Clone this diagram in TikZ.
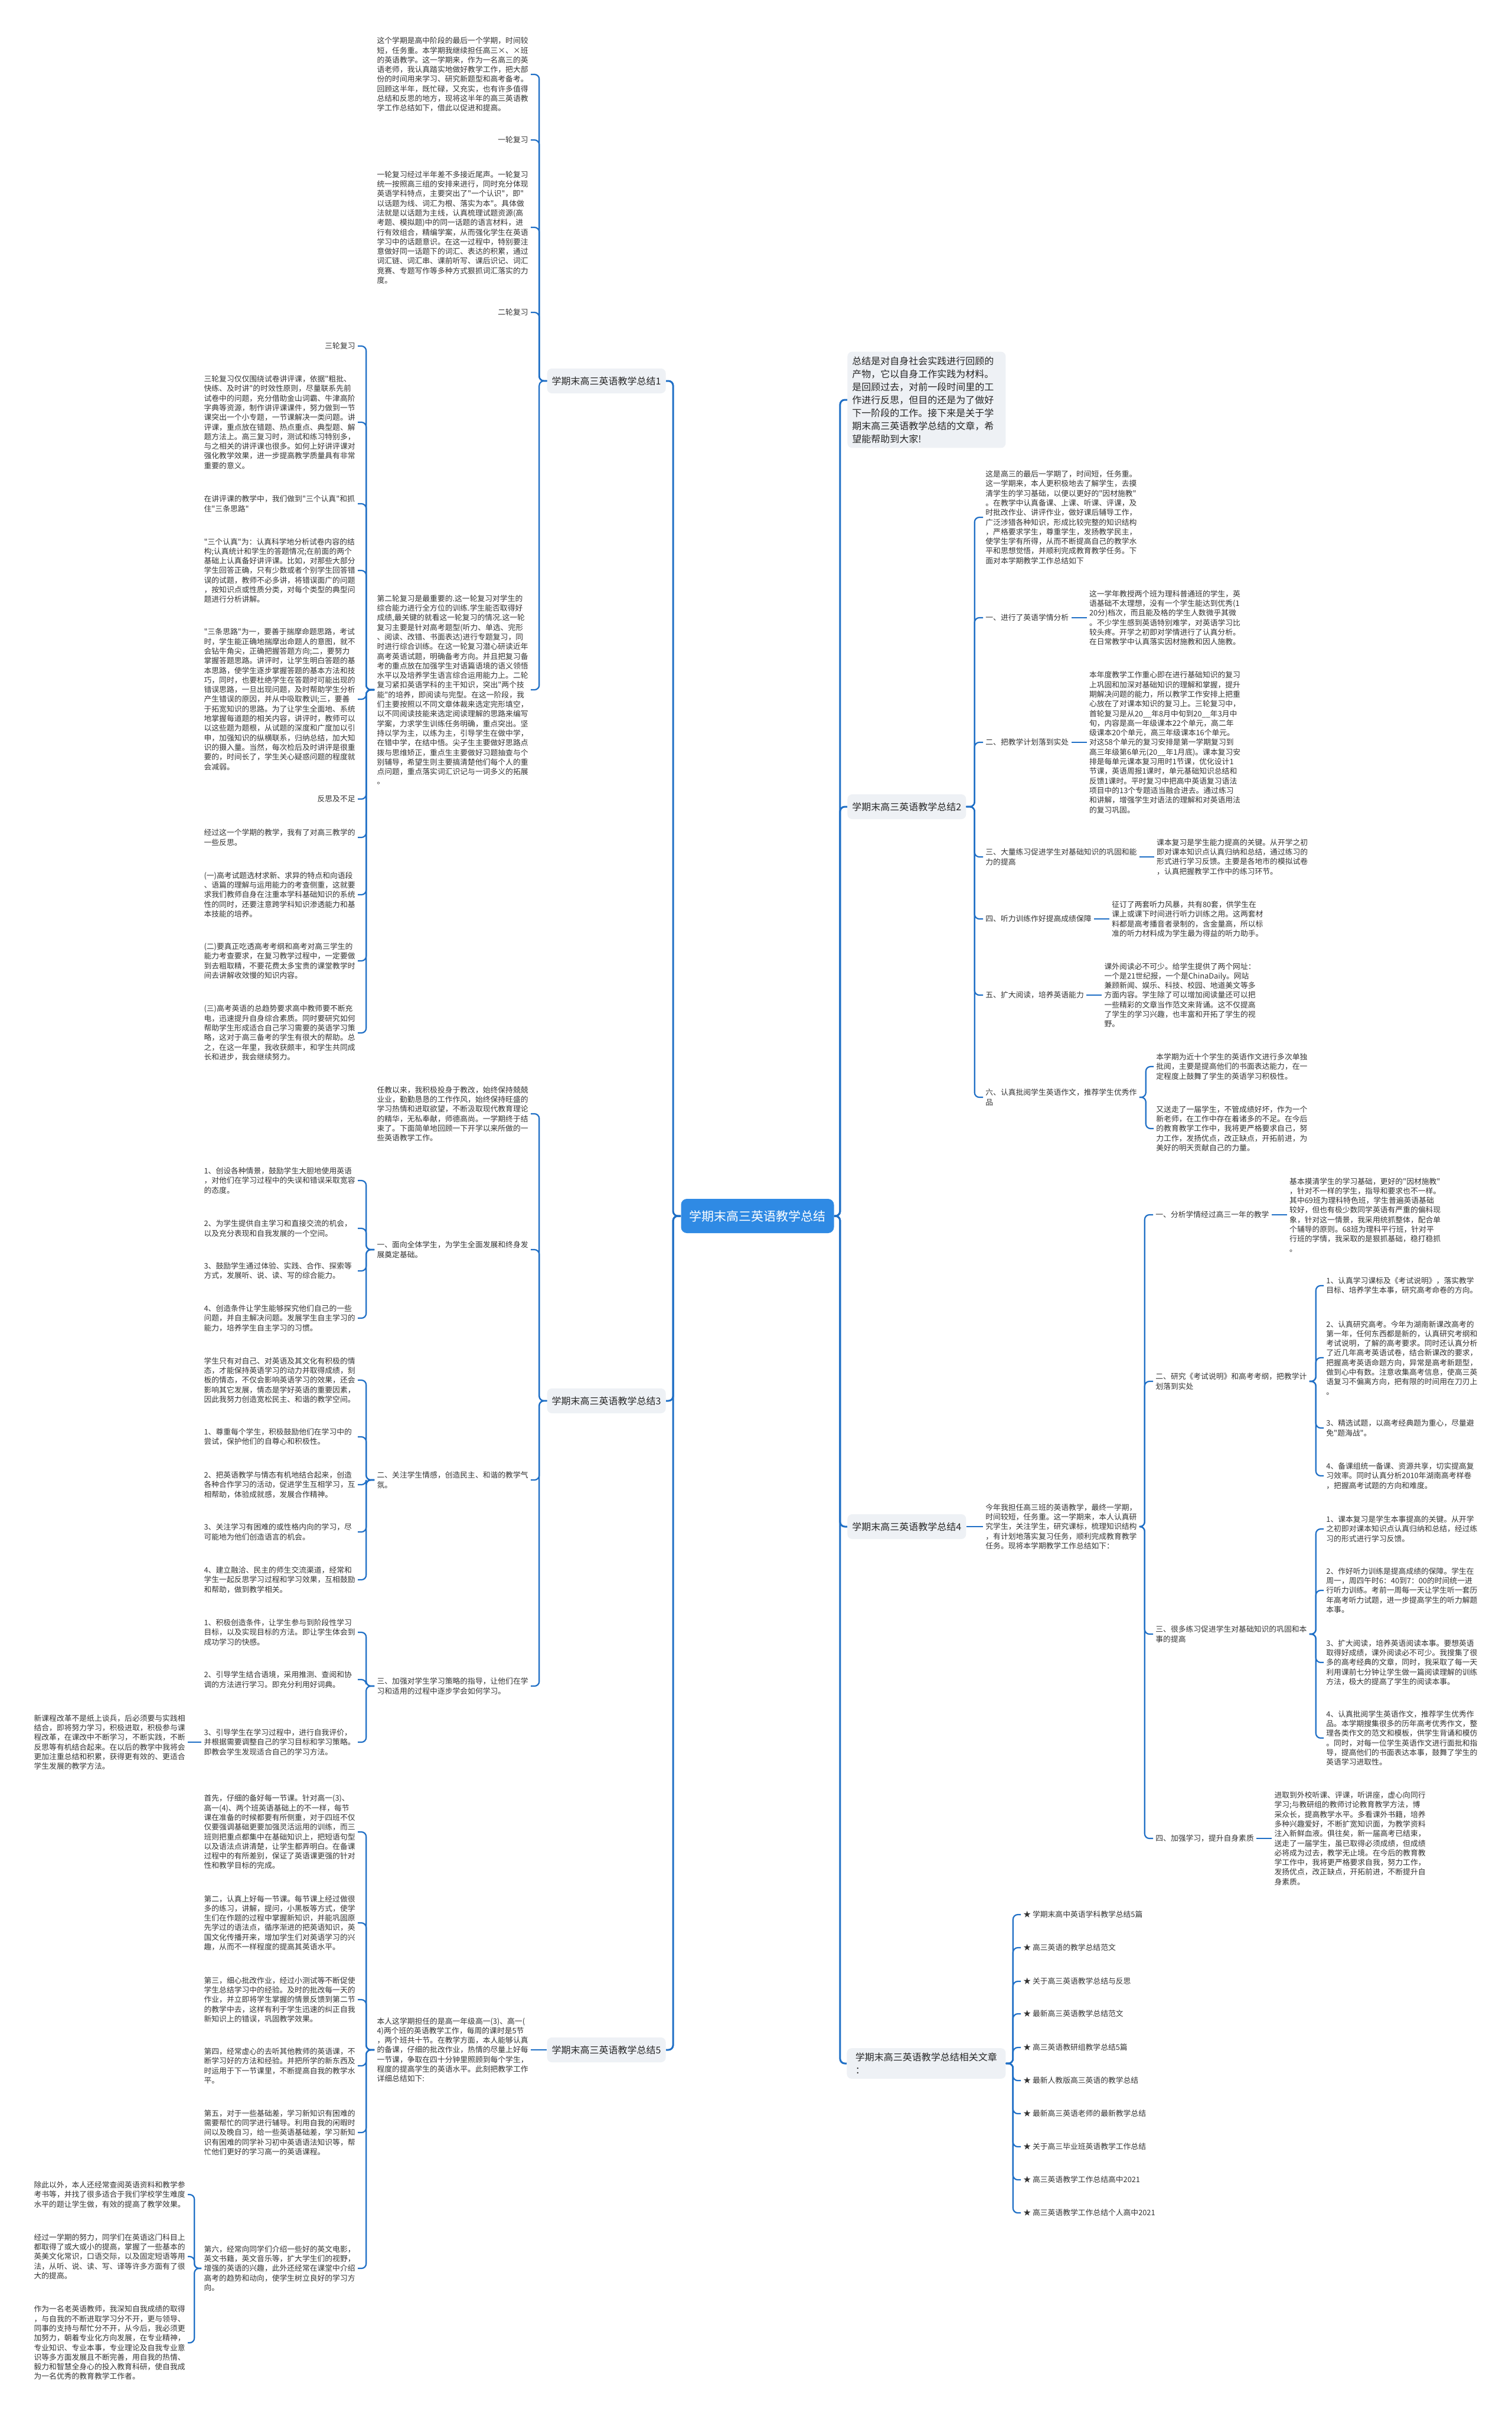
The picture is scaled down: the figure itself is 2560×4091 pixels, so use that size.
\documentclass[tikz,border=0pt]{standalone}
\usepackage{fontspec}
\newfontfamily\cjk{Noto Sans CJK SC}
\usetikzlibrary{positioning}

\definecolor{linkblue}{HTML}{1F6FC6}
\definecolor{rootblue}{HTML}{2F8AE4}
\definecolor{boxgray}{HTML}{EEF1F5}
\definecolor{inkgray}{HTML}{333333}

\begin{document}
\begin{tikzpicture}[x=0.5pt, y=-0.5pt,
    leaf/.style={font=\cjk\fontsize{6.4}{8.15}\selectfont, text=inkgray, inner xsep=2pt, inner ysep=0pt, text width=128pt, align=left},
    tag/.style={font=\cjk\fontsize{6.4}{8.15}\selectfont, text=inkgray, inner xsep=2pt, inner ysep=1pt},
    branch/.style={font=\cjk\fontsize{8}{11}\selectfont, text=black!85, fill=boxgray, rounded corners=4pt, inner xsep=4pt, inner ysep=4pt, minimum height=21pt, align=left},
    root/.style={font=\cjk\fontsize{10.5}{13}\selectfont, text=white, fill=rootblue, rounded corners=5pt, minimum width=129.5pt, minimum height=29pt},
    link/.style={draw=linkblue, line width=1.1pt, rounded corners=4pt},
    mainlink/.style={link, line width=1.5pt}]
  \fill[white] (0,0) rectangle (2560,4091);
  \useasboundingbox (0,0) rectangle (2560,4091);

  % centre
  \node[root] (root) at (1283,2059) {学期末高三英语教学总结};

  % ---------- branch 1 ----------
  \node[branch, anchor=east] (b1) at (1128,645) {学期末高三英语教学总结1};
  \node[leaf, anchor=east] (b1intro) at (899,126) {这个学期是高中阶段的最后一个学期，时间较\\短，任务重。本学期我继续担任高三×、×班\\的英语教学。这一学期来，作为一名高三的英\\语老师，我认真踏实地做好教学工作，把大部\\份的时间用来学习、研究新题型和高考备考。\\回顾这半年，既忙碌，又充实，也有许多值得\\总结和反思的地方，现将这半年的高三英语教\\学工作总结如下，借此以促进和提高。};
  \node[tag, anchor=east] (b1round1) at (899,237) {一轮复习};
  \node[leaf, anchor=east] (b1first) at (899,385) {一轮复习经过半年差不多接近尾声。一轮复习\\统一按照高三组的安排来进行，同时充分体现\\英语学科特点，主要突出了"一个认识"，即"\\以话题为线、词汇为根、落实为本"。具体做\\法就是以话题为主线，认真梳理试题资源(高\\考题、模拟题)中的同一话题的语言材料，进\\行有效组合，精编学案，从而强化学生在英语\\学习中的话题意识。在这一过程中，特别要注\\意做好同一话题下的词汇、表达的积累，通过\\词汇链、词汇串、课前听写、课后识记、词汇\\竞赛、专题写作等多种方式狠抓词汇落实的力\\度。};
  \node[tag, anchor=east] (b1round2) at (899,529) {二轮复习};
  \node[leaf, anchor=east] (b1second) at (899,1168) {第二轮复习是最重要的.这一轮复习对学生的\\综合能力进行全方位的训练.学生能否取得好\\成绩,最关键的就看这一轮复习的情况.这一轮\\复习主要是针对高考题型(听力、单选、完形\\、阅读、改错、书面表达)进行专题复习，同\\时进行综合训练。在这一轮复习潜心研读近年\\高考英语试题，明确备考方向。并且把复习备\\考的重点放在加强学生对语篇语境的语义领悟\\水平以及培养学生语言综合运用能力上。二轮\\复习紧扣英语学科的主干知识，突出"两个技\\能"的培养，即阅读与完型。在这一阶段，我\\们主要按照以不同文章体裁来选定完形填空，\\以不同阅读技能来选定阅读理解的思路来编写\\学案，力求学生训练任务明确，重点突出。坚\\持以学为主，以练为主，引导学生在做中学，\\在错中学，在结中悟。尖子生主要做好思路点\\拨与思维矫正，重点生主要做好习题抽查与个\\别辅导，希望生则主要搞清楚他们每个人的重\\点问题，重点落实词汇识记与一词多义的拓展\\。};
  \node[tag, anchor=east] (b1round3) at (606,586) {三轮复习};
  \node[leaf, anchor=east] (b1third) at (606,715) {三轮复习仅仅围绕试卷讲评课，依据"粗批、\\快练、及时讲"的时效性原则，尽量联系先前\\试卷中的问题，充分借助金山词霸、牛津高阶\\字典等资源，制作讲评课课件，努力做到一节\\课突出一个小专题，一节课解决一类问题。讲\\评课，重点放在错题、热点重点、典型题、解\\题方法上。高三复习时，测试和练习特别多，\\与之相关的讲评课也很多。如何上好讲评课对\\强化教学效果，进一步提高教学质量具有非常\\重要的意义。};
  \node[leaf, anchor=east] (b1review) at (606,853) {在讲评课的教学中，我们做到"三个认真"和抓\\住"三条思路"};
  \node[leaf, anchor=east] (b1careful) at (606,966) {"三个认真"为：认真科学地分析试卷内容的结\\构;认真统计和学生的答题情况;在前面的两个\\基础上认真备好讲评课。比如，对那些大部分\\学生回答正确，只有少数或者个别学生回答错\\误的试题，教师不必多讲，将错误面广的问题\\，按知识点或性质分类，对每个类型的典型问\\题进行分析讲解。};
  \node[leaf, anchor=east] (b1routes) at (606,1184) {"三条思路"为一，要善于揣摩命题思路，考试\\时，学生能正确地揣摩出命题人的意图，就不\\会钻牛角尖，正确把握答题方向;二，要努力\\掌握答题思路。讲评时，让学生明白答题的基\\本思路，使学生逐步掌握答题的基本方法和技\\巧，同时，也要杜绝学生在答题时可能出现的\\错误思路，一旦出现问题，及时帮助学生分析\\产生错误的原因，并从中吸取教训;三，要善\\于拓宽知识的思路。为了让学生全面地、系统\\地掌握每道题的相关内容，讲评时，教师可以\\以这些题为题根，从试题的深度和广度加以引\\申，加强知识的纵横联系，归纳总结，加大知\\识的摄入量。当然，每次检后及时讲评是很重\\要的，时间长了，学生关心疑惑问题的程度就\\会减弱。};
  \node[tag, anchor=east] (b1reflect) at (606,1353) {反思及不足};
  \node[leaf, anchor=east] (b1after) at (606,1418) {经过这一个学期的教学，我有了对高三教学的\\一些反思。};
  \node[leaf, anchor=east] (b1one) at (606,1515) {(一)高考试题选材求新、求异的特点和向语段\\、语篇的理解与运用能力的考查侧重，这就要\\求我们教师自身在注重本学科基础知识的系统\\性的同时，还要注意跨学科知识渗透能力和基\\本技能的培养。};
  \node[leaf, anchor=east] (b1two) at (606,1627) {(二)要真正吃透高考考纲和高考对高三学生的\\能力考查要求，在复习教学过程中，一定要做\\到去粗取精，不要花费太多宝贵的课堂教学时\\间去讲解收效慢的知识内容。};
  \node[leaf, anchor=east] (b1three) at (606,1749) {(三)高考英语的总趋势要求高中教师要不断充\\电，迅速提升自身综合素质。同时要研究如何\\帮助学生形成适合自己学习需要的英语学习策\\略，这对于高三备考的学生有很大的帮助。总\\之，在这一年里，我收获颇丰，和学生共同成\\长和进步，我会继续努力。};

  % ---------- branch 3 ----------
  \node[branch, anchor=east] (b3) at (1128,2372) {学期末高三英语教学总结3};
  \node[leaf, anchor=east] (b3intro) at (899,1886) {任教以来，我积极投身于教改，始终保持兢兢\\业业，勤勤恳恳的工作作风，始终保持旺盛的\\学习热情和进取欲望，不断汲取现代教育理论\\的精华，无私奉献，师德高尚。一学期终于结\\束了。下面简单地回顾一下开学以来所做的一\\些英语教学工作。};
  \node[leaf, anchor=east] (b3a) at (899,2116) {一、面向全体学生，为学生全面发展和终身发\\展奠定基础。};
  \node[leaf, anchor=east] (b3a1) at (606,1999) {1、创设各种情景，鼓励学生大胆地使用英语\\，对他们在学习过程中的失误和错误采取宽容\\的态度。};
  \node[leaf, anchor=east] (b3a2) at (606,2080) {2、为学生提供自主学习和直接交流的机会，\\以及充分表现和自我发展的一个空间。};
  \node[leaf, anchor=east] (b3a3) at (606,2152) {3、鼓励学生通过体验、实践、合作、探索等\\方式，发展听、说、读、写的综合能力。};
  \node[leaf, anchor=east] (b3a4) at (606,2232) {4、创造条件让学生能够探究他们自己的一些\\问题，并自主解决问题。发展学生自主学习的\\能力，培养学生自主学习的习惯。};
  \node[leaf, anchor=east] (b3b) at (899,2506) {二、关注学生情感，创造民主、和谐的教学气\\氛。};
  \node[leaf, anchor=east] (b3b0) at (606,2337) {学生只有对自己、对英语及其文化有积极的情\\态，才能保持英语学习的动力并取得成绩，刻\\板的情态，不仅会影响英语学习的效果，还会\\影响其它发展，情态是学好英语的重要因素，\\因此我努力创造宽松民主、和谐的教学空间。};
  \node[leaf, anchor=east] (b3b1) at (606,2433) {1、尊重每个学生，积极鼓励他们在学习中的\\尝试，保护他们的自尊心和积极性。};
  \node[leaf, anchor=east] (b3b2) at (606,2514) {2、把英语教学与情态有机地结合起来，创造\\各种合作学习的活动，促进学生互相学习，互\\相帮助，体验成就感，发展合作精神。};
  \node[leaf, anchor=east] (b3b3) at (606,2594) {3、关注学习有困难的或性格内向的学习，尽\\可能地为他们创造语言的机会。};
  \node[leaf, anchor=east] (b3b4) at (606,2675) {4、建立融洽、民主的师生交流渠道，经常和\\学生一起反思学习过程和学习效果，互相鼓励\\和帮助，做到教学相关。};
  \node[leaf, anchor=east] (b3c) at (899,2855) {三、加强对学生学习策略的指导，让他们在学\\习和适用的过程中逐步学会如何学习。};
  \node[leaf, anchor=east] (b3c1) at (606,2764) {1、积极创造条件，让学生参与到阶段性学习\\目标，以及实现目标的方法。即让学生体会到\\成功学习的快感。};
  \node[leaf, anchor=east] (b3c2) at (606,2844) {2、引导学生结合语境，采用推测、查阅和协\\调的方法进行学习。即充分利用好词典。};
  \node[leaf, anchor=east] (b3c3) at (606,2950) {3、引导学生在学习过程中，进行自我评价，\\并根据需要调整自己的学习目标和学习策略。\\即教会学生发现适合自己的学习方法。};
  \node[leaf, anchor=east] (b3c3x) at (318,2950) {新课程改革不是纸上谈兵，后必须要与实践相\\结合，即将努力学习，积极进取，积极参与课\\程改革，在课改中不断学习，不断实践，不断\\反思等有机结合起来。在以后的教学中我将会\\更加注重总结和积累，获得更有效的、更适合\\学生发展的教学方法。};

  % ---------- branch 5 ----------
  \node[branch, anchor=east] (b5) at (1128,3471) {学期末高三英语教学总结5};
  \node[leaf, anchor=east] (b5intro) at (899,3471) {本人这学期担任的是高一年级高一(3)、高一(\\4)两个班的英语教学工作，每周的课时是5节\\，两个班共十节。在教学方面，本人能够认真\\的备课，仔细的批改作业，热情的尽量上好每\\一节课，争取在四十分钟里照顾到每个学生，\\程度的提高学生的英语水平。此刻把教学工作\\详细总结如下:};
  \node[leaf, anchor=east] (b5a) at (606,3102) {首先，仔细的备好每一节课。针对高一(3)、\\高一(4)、两个班英语基础上的不一样，每节\\课在准备的时候都要有所侧重，对于四班不仅\\仅要强调基础更要加强灵活运用的训练，而三\\班则把重点都集中在基础知识上，把短语句型\\以及语法点讲清楚，让学生都弄明白。在备课\\过程中的有所差别，保证了英语课更强的针对\\性和教学目标的完成。};
  \node[leaf, anchor=east] (b5b) at (606,3256) {第二，认真上好每一节课。每节课上经过做很\\多的练习，讲解，提问，小黑板等方式，使学\\生们在作题的过程中掌握新知识，并能巩固原\\先学过的语法点，循序渐进的把英语知识，英\\国文化传播开来，增加学生们对英语学习的兴\\趣，从而不一样程度的提高其英语水平。};
  \node[leaf, anchor=east] (b5c) at (606,3386) {第三，细心批改作业，经过小测试等不断促使\\学生总结学习中的经验。及时的批改每一天的\\作业，并立即将学生掌握的情景反馈到第二节\\的教学中去，这样有利于学生迅速的纠正自我\\新知识上的错误，巩固教学效果。};
  \node[leaf, anchor=east] (b5d) at (606,3498) {第四，经常虚心的去听其他教师的英语课，不\\断学习好的方法和经验。并把所学的新东西及\\时运用于下一节课里，不断提高自我的教学水\\平。};
  \node[leaf, anchor=east] (b5e) at (606,3611) {第五，对于一些基础差，学习新知识有困难的\\需要帮忙的同学进行辅导。利用自我的闲暇时\\间以及晚自习，给一些英语基础差，学习新知\\识有困难的同学补习初中英语语法知识等，帮\\忙他们更好的学习高一的英语课程。};
  \node[leaf, anchor=east] (b5f) at (606,3841) {第六，经常向同学们介绍一些好的英文电影，\\英文书籍，英文音乐等，扩大学生们的视野，\\增强的英语的兴趣，此外还经常在课堂中介绍\\高考的趋势和动向，使学生树立良好的学习方\\向。};
  \node[leaf, anchor=east] (b5f1) at (318,3716) {除此以外，本人还经常查阅英语资料和教学参\\考书等，并找了很多适合于我们学校学生难度\\水平的题让学生做，有效的提高了教学效果。};
  \node[leaf, anchor=east] (b5f2) at (318,3821) {经过一学期的努力，同学们在英语这门科目上\\都取得了或大或小的提高，掌握了一些基本的\\英美文化常识，口语交际，以及固定短语等用\\法，从听、说、读、写、译等许多方面有了很\\大的提高。};
  \node[leaf, anchor=east] (b5f3) at (318,3967) {作为一名老英语教师，我深知自我成绩的取得\\，与自我的不断进取学习分不开，更与领导、\\同事的支持与帮忙分不开，从今后，我必须更\\加努力，朝着专业化方向发展，在专业精神，\\专业知识、专业本事，专业理论及自我专业意\\识等多方面发展且不断完善，用自我的热情、\\毅力和智慧全身心的投入教育科研，使自我成\\为一名优秀的教育教学工作者。};

  % ---------- right side ----------
  \node[branch, anchor=west, text width=126pt] (intro) at (1435,677) {总结是对自身社会实践进行回顾的\\产物，它以自身工作实践为材料。\\是回顾过去，对前一段时间里的工\\作进行反思，但目的还是为了做好\\下一阶段的工作。接下来是关于学\\期末高三英语教学总结的文章，希\\望能帮助到大家!};

  % ---------- branch 2 ----------
  \node[branch, anchor=west] (b2) at (1435,1366) {学期末高三英语教学总结2};
  \node[leaf, anchor=west] (b2intro) at (1665,876) {这是高三的最后一学期了，时间短，任务重。\\这一学期来，本人更积极地去了解学生，去摸\\清学生的学习基础，以便以更好的"因材施教"\\。在教学中认真备课、上课、听课、评课，及\\时批改作业、讲评作业，做好课后辅导工作，\\广泛涉猎各种知识，形成比较完整的知识结构\\，严格要求学生，尊重学生，发扬教学民主，\\使学生学有所得，从而不断提高自己的教学水\\平和思想觉悟，并顺利完成教育教学任务。下\\面对本学期教学工作总结如下};
  \node[tag, anchor=west] (b2a) at (1665,1046) {一、进行了英语学情分析};
  \node[leaf, right=13pt of b2a] (b2a1) {这一学年教授两个班为理科普通班的学生，英\\语基础不太理想，没有一个学生能达到优秀(1\\20分)档次，而且能及格的学生人数微乎其微\\。不少学生感到英语特别难学，对英语学习比\\较头疼。开学之初即对学情进行了认真分析。\\在日常教学中认真落实因材施教和因人施教。};
  \node[tag, anchor=west] (b2b) at (1665,1257) {二、把教学计划落到实处};
  \node[leaf, right=13pt of b2b] (b2b1) {本年度教学工作重心即在进行基础知识的复习\\上巩固和加深对基础知识的理解和掌握，提升\\期解决问题的能力，所以教学工作安排上把重\\心放在了对课本知识的复习上。三轮复习中，\\首轮复习是从20\_\_年8月中旬到20\_\_年3月中\\旬，内容是高一年级课本22个单元，高二年\\级课本20个单元，高三年级课本16个单元。\\对这58个单元的复习安排是第一学期复习到\\高三年级第6单元(20\_\_年1月底)。课本复习安\\排是每单元课本复习用时1节课，优化设计1\\节课，英语周报1课时，单元基础知识总结和\\反馈1课时。平时复习中把高中英语复习语法\\项目中的13个专题适当融合进去。通过练习\\和讲解，增强学生对语法的理解和对英语用法\\的复习巩固。};
  \node[leaf, anchor=west] (b2c) at (1665,1451) {三、大量练习促进学生对基础知识的巩固和能\\力的提高};
  \node[leaf, right=12.5pt of b2c] (b2c1) {课本复习是学生能力提高的关键。从开学之初\\即对课本知识点认真归纳和总结，通过练习的\\形式进行学习反馈。主要是各地市的模拟试卷\\，认真把握教学工作中的练习环节。};
  \node[tag, anchor=west] (b2d) at (1665,1556) {四、听力训练作好提高成绩保障};
  \node[leaf, right=13pt of b2d] (b2d1) {征订了两套听力风暴，共有80套，供学生在\\课上或课下时间进行听力训练之用。这两套材\\料都是高考播音者录制的，含金量高，所以标\\准的听力材料成为学生最为得益的听力助手。};
  \node[tag, anchor=west] (b2e) at (1665,1685) {五、扩大阅读，培养英语能力};
  \node[leaf, right=13pt of b2e] (b2e1) {课外阅读必不可少。给学生提供了两个网址：\\一个是21世纪报，一个是ChinaDaily。网站\\兼顾新闻、娱乐、科技、校园、地道美文等多\\方面内容。学生除了可以增加阅读量还可以把\\一些精彩的文章当作范文来背诵。这不仅提高\\了学生的学习兴趣，也丰富和开拓了学生的视\\野。};
  \node[leaf, anchor=west] (b2f) at (1665,1858) {六、认真批阅学生英语作文，推荐学生优秀作\\品};
  \node[leaf, anchor=west] (b2f1) at (1954,1806) {本学期为近十个学生的英语作文进行多次单独\\批阅，主要是提高他们的书面表达能力，在一\\定程度上鼓舞了学生的英语学习积极性。};
  \node[leaf, anchor=west] (b2f2) at (1954,1911) {又送走了一届学生，不管成绩好坏，作为一个\\新老师，在工作中存在着诸多的不足。在今后\\的教育教学工作中，我将更严格要求自己，努\\力工作，发扬优点，改正缺点，开拓前进，为\\美好的明天贡献自己的力量。};

  % ---------- branch 4 ----------
  \node[branch, anchor=west] (b4) at (1435,2585) {学期末高三英语教学总结4};
  \node[leaf, anchor=west] (b4intro) at (1665,2585) {今年我担任高三班的英语教学，最终一学期，\\时间较短，任务重。这一学期来，本人认真研\\究学生，关注学生，研究课标，梳理知识结构\\，有计划地落实复习任务，顺利完成教育教学\\任务。现将本学期教学工作总结如下：};
  \node[tag, anchor=west] (b4a) at (1953,2057) {一、分析学情经过高三一年的教学};
  \node[leaf, right=13pt of b4a] (b4a1) {基本摸清学生的学习基础，更好的"因材施教"\\，针对不一样的学生，指导和要求也不一样。\\其中69班为理科特色班，学生普遍英语基础\\较好，但也有极少数同学英语有严重的偏科现\\象，针对这一情景，我采用统抓整体，配合单\\个辅导的原则。68班为理科平行班，针对平\\行班的学情，我采取的是狠抓基础，稳打稳抓\\。};
  \node[leaf, anchor=west] (b4b) at (1953,2339) {二、研究《考试说明》和高考考纲，把教学计\\划落到实处};
  \node[leaf, anchor=west] (b4b1) at (2242,2177) {1、认真学习课标及《考试说明》，落实教学\\目标、培养学生本事，研究高考命卷的方向。};
  \node[leaf, anchor=west] (b4b2) at (2242,2299) {2、认真研究高考。今年为湖南新课改高考的\\第一年，任何东西都是新的，认真研究考纲和\\考试说明，了解的高考要求。同时还认真分析\\了近几年高考英语试卷，结合新课改的要求，\\把握高考英语命题方向，异常是高考新题型，\\做到心中有数。注意收集高考信息，使高三英\\语复习不偏离方向，把有限的时间用在刀刃上\\。};
  \node[leaf, anchor=west] (b4b3) at (2242,2418) {3、精选试题，以高考经典题为重心，尽量避\\免"题海战"。};
  \node[leaf, anchor=west] (b4b4) at (2242,2499) {4、备课组统一备课、资源共享，切实提高复\\习效率。同时认真分析2010年湖南高考样卷\\，把握高考试题的方向和难度。};
  \node[leaf, anchor=west] (b4c) at (1953,2767) {三、很多练习促进学生对基础知识的巩固和本\\事的提高};
  \node[leaf, anchor=west] (b4c1) at (2242,2589) {1、课本复习是学生本事提高的关键。从开学\\之初即对课本知识点认真归纳和总结，经过练\\习的形式进行学习反馈。};
  \node[leaf, anchor=west] (b4c2) at (2242,2693) {2、作好听力训练是提高成绩的保障。学生在\\周一，周四午时6：40到7：00的时间统一进\\行听力训练。考前一周每一天让学生听一套历\\年高考听力试题，进一步提高学生的听力解题\\本事。};
  \node[leaf, anchor=west] (b4c3) at (2242,2815) {3、扩大阅读，培养英语阅读本事。要想英语\\取得好成绩，课外阅读必不可少。我搜集了很\\多的高考经典的文章，同时，我采取了每一天\\利用课前七分钟让学生做一篇阅读理解的训练\\方法，极大的提高了学生的阅读本事。};
  \node[leaf, anchor=west] (b4c4) at (2242,2943) {4、认真批阅学生英语作文，推荐学生优秀作\\品。本学期搜集很多的历年高考优秀作文，整\\理各类作文的范文和模板，供学生背诵和模仿\\。同时，对每一位学生英语作文进行面批和指\\导，提高他们的书面表达本事，鼓舞了学生的\\英语学习进取性。};
  \node[tag, anchor=west] (b4d) at (1953,3113) {四、加强学习，提升自身素质};
  \node[leaf, right=13pt of b4d] (b4d1) {进取到外校听课、评课，听讲座，虚心向同行\\学习;与教研组的教师讨论教育教学方法，博\\采众长，提高教学水平。多看课外书籍，培养\\多种兴趣爱好，不断扩宽知识面，为教学资料\\注入新鲜血液。俱往矣，新一届高考已结束，\\送走了一届学生，虽已取得必须成绩，但成绩\\必将成为过去，教学无止境。在今后的教育教\\学工作中，我将更严格要求自我，努力工作，\\发扬优点，改正缺点，开拓前进，不断提升自\\身素质。};

  % ---------- related articles ----------
  \node[branch, anchor=west, minimum width=134.5pt] (rel) at (1434,3494) {学期末高三英语教学总结相关文章\\：};
  \node[tag, anchor=west] (r1) at (1729,3242) {★ 学期末高中英语学科教学总结5篇};
  \node[tag, anchor=west] (r2) at (1729,3298) {★ 高三英语的教学总结范文};
  \node[tag, anchor=west] (r3) at (1729,3355) {★ 关于高三英语教学总结与反思};
  \node[tag, anchor=west] (r4) at (1729,3410) {★ 最新高三英语教学总结范文};
  \node[tag, anchor=west] (r5) at (1729,3467) {★ 高三英语教研组教学总结5篇};
  \node[tag, anchor=west] (r6) at (1729,3523) {★ 最新人教版高三英语的教学总结};
  \node[tag, anchor=west] (r7) at (1729,3579) {★ 最新高三英语老师的最新教学总结};
  \node[tag, anchor=west] (r8) at (1729,3635) {★ 关于高三毕业班英语教学工作总结};
  \node[tag, anchor=west] (r9) at (1729,3691) {★ 高三英语教学工作总结高中2021};
  \node[tag, anchor=west] (r10) at (1729,3747) {★ 高三英语教学工作总结个人高中2021};

  % ---------- connectors ----------
  \draw[mainlink] (root.west) -- ++(-13,0) |- (b1.east);
  \draw[mainlink] (root.west) -- ++(-13,0) |- (b3.east);
  \draw[mainlink] (root.west) -- ++(-13,0) |- (b5.east);
  \draw[mainlink] (root.east) -- ++(10,0) |- (intro.west);
  \draw[mainlink] (root.east) -- ++(10,0) |- (b2.west);
  \draw[mainlink] (root.east) -- ++(10,0) |- (b4.west);
  \draw[mainlink] (root.east) -- ++(10,0) |- (rel.west);

  \draw[link] (b1.west) -- ++(-13,0) |- (b1intro.east);
  \draw[link] (b1.west) -- ++(-13,0) |- (b1round1.east);
  \draw[link] (b1.west) -- ++(-13,0) |- (b1first.east);
  \draw[link] (b1.west) -- ++(-13,0) |- (b1round2.east);
  \draw[link] (b1.west) -- ++(-13,0) |- (b1second.east);
  \draw[link] (b1second.west) -- ++(-14,0) |- (b1round3.east);
  \draw[link] (b1second.west) -- ++(-14,0) |- (b1third.east);
  \draw[link] (b1second.west) -- ++(-14,0) |- (b1review.east);
  \draw[link] (b1second.west) -- ++(-14,0) |- (b1careful.east);
  \draw[link] (b1second.west) -- ++(-14,0) |- (b1routes.east);
  \draw[link] (b1second.west) -- ++(-14,0) |- (b1reflect.east);
  \draw[link] (b1second.west) -- ++(-14,0) |- (b1after.east);
  \draw[link] (b1second.west) -- ++(-14,0) |- (b1one.east);
  \draw[link] (b1second.west) -- ++(-14,0) |- (b1two.east);
  \draw[link] (b1second.west) -- ++(-14,0) |- (b1three.east);

  \draw[link] (b3.west) -- ++(-13,0) |- (b3intro.east);
  \draw[link] (b3.west) -- ++(-13,0) |- (b3a.east);
  \draw[link] (b3.west) -- ++(-13,0) |- (b3b.east);
  \draw[link] (b3.west) -- ++(-13,0) |- (b3c.east);
  \draw[link] (b3a.west) -- ++(-14,0) |- (b3a1.east);
  \draw[link] (b3a.west) -- ++(-14,0) |- (b3a2.east);
  \draw[link] (b3a.west) -- ++(-14,0) |- (b3a3.east);
  \draw[link] (b3a.west) -- ++(-14,0) |- (b3a4.east);
  \draw[link] (b3b.west) -- ++(-14,0) |- (b3b0.east);
  \draw[link] (b3b.west) -- ++(-14,0) |- (b3b1.east);
  \draw[link] (b3b.west) -- ++(-14,0) |- (b3b2.east);
  \draw[link] (b3b.west) -- ++(-14,0) |- (b3b3.east);
  \draw[link] (b3b.west) -- ++(-14,0) |- (b3b4.east);
  \draw[link] (b3c.west) -- ++(-14,0) |- (b3c1.east);
  \draw[link] (b3c.west) -- ++(-14,0) |- (b3c2.east);
  \draw[link] (b3c.west) -- ++(-14,0) |- (b3c3.east);
  \draw[link] (b3c3.west) -- (b3c3x.east);

  \draw[link] (b5.west) -- (b5intro.east);
  \draw[link] (b5intro.west) -- ++(-14,0) |- (b5a.east);
  \draw[link] (b5intro.west) -- ++(-14,0) |- (b5b.east);
  \draw[link] (b5intro.west) -- ++(-14,0) |- (b5c.east);
  \draw[link] (b5intro.west) -- ++(-14,0) |- (b5d.east);
  \draw[link] (b5intro.west) -- ++(-14,0) |- (b5e.east);
  \draw[link] (b5intro.west) -- ++(-14,0) |- (b5f.east);
  \draw[link] (b5f.west) -- ++(-12,0) |- (b5f1.east);
  \draw[link] (b5f.west) -- ++(-12,0) |- (b5f2.east);
  \draw[link] (b5f.west) -- ++(-12,0) |- (b5f3.east);

  \draw[link] (b2.east) -- ++(14,0) |- (b2intro.west);
  \draw[link] (b2.east) -- ++(14,0) |- (b2a.west);
  \draw[link] (b2.east) -- ++(14,0) |- (b2b.west);
  \draw[link] (b2.east) -- ++(14,0) |- (b2c.west);
  \draw[link] (b2.east) -- ++(14,0) |- (b2d.west);
  \draw[link] (b2.east) -- ++(14,0) |- (b2e.west);
  \draw[link] (b2.east) -- ++(14,0) |- (b2f.west);
  \draw[link] (b2a) -- (b2a1);
  \draw[link] (b2b) -- (b2b1);
  \draw[link] (b2c) -- (b2c1);
  \draw[link] (b2d) -- (b2d1);
  \draw[link] (b2e) -- (b2e1);
  \draw[link] (b2f.east) -- ++(11,0) |- (b2f1.west);
  \draw[link] (b2f.east) -- ++(11,0) |- (b2f2.west);

  \draw[link] (b4.east) -- (b4intro.west);
  \draw[link] (b4intro.east) -- ++(9,0) |- (b4a.west);
  \draw[link] (b4intro.east) -- ++(9,0) |- (b4b.west);
  \draw[link] (b4intro.east) -- ++(9,0) |- (b4c.west);
  \draw[link] (b4intro.east) -- ++(9,0) |- (b4d.west);
  \draw[link] (b4a) -- (b4a1);
  \draw[link] (b4b.east) -- ++(11,0) |- (b4b1.west);
  \draw[link] (b4b.east) -- ++(11,0) |- (b4b2.west);
  \draw[link] (b4b.east) -- ++(11,0) |- (b4b3.west);
  \draw[link] (b4b.east) -- ++(11,0) |- (b4b4.west);
  \draw[link] (b4c.east) -- ++(11,0) |- (b4c1.west);
  \draw[link] (b4c.east) -- ++(11,0) |- (b4c2.west);
  \draw[link] (b4c.east) -- ++(11,0) |- (b4c3.west);
  \draw[link] (b4c.east) -- ++(11,0) |- (b4c4.west);
  \draw[link] (b4d) -- (b4d1);

  \draw[link] (rel.east) -- ++(12,0) |- (r1.west);
  \draw[link] (rel.east) -- ++(12,0) |- (r2.west);
  \draw[link] (rel.east) -- ++(12,0) |- (r3.west);
  \draw[link] (rel.east) -- ++(12,0) |- (r4.west);
  \draw[link] (rel.east) -- ++(12,0) |- (r5.west);
  \draw[link] (rel.east) -- ++(12,0) |- (r6.west);
  \draw[link] (rel.east) -- ++(12,0) |- (r7.west);
  \draw[link] (rel.east) -- ++(12,0) |- (r8.west);
  \draw[link] (rel.east) -- ++(12,0) |- (r9.west);
  \draw[link] (rel.east) -- ++(12,0) |- (r10.west);
\end{tikzpicture}
\end{document}
